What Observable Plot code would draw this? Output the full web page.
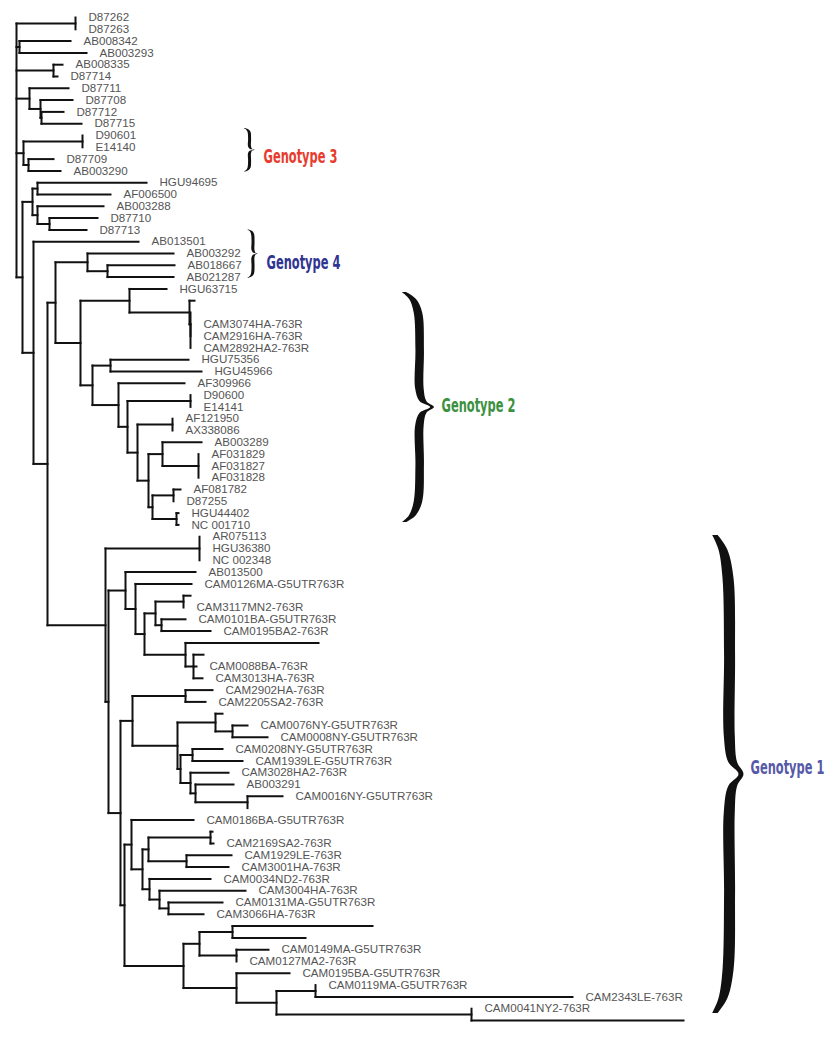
<!DOCTYPE html>
<html>
<head>
<meta charset="utf-8">
<script src="https://cdn.jsdelivr.net/npm/d3@7"></script>
<script src="https://cdn.jsdelivr.net/npm/@observablehq/plot@0.6"></script>
<style>
  html, body { margin: 0; padding: 0; background: #fff; }
  #chart { width: 836px; height: 1050px; }
</style>
</head>
<body>
<div id="chart"></div>
<script>
// ---- Leaves, top to bottom: [label, tip depth (tree distance from root, arbitrary units)] ----
const genotype3Leaves = [
  ["D87262", 59], ["D87263", 59], ["AB008342", 54], ["AB003293", 70],
  ["AB008335", 46], ["D87714", 41], ["D87711", 52], ["D87708", 56],
  ["D87712", 47], ["D87715", 65], ["D90601", 66], ["E14140", 66],
  ["D87709", 37], ["AB003290", 44], ["HGU94695", 130], ["AF006500", 94],
  ["AB003288", 87], ["D87710", 81], ["D87713", 70]
];
const genotype4Leaves = [
  ["AB013501", 122], ["AB003292", 157], ["AB018667", 158], ["AB021287", 157]
];
const genotype2Leaves = [
  ["HGU63715", 150], ["", 178], ["", 174], ["CAM3074HA-763R", 174],
  ["CAM2916HA-763R", 174], ["CAM2892HA2-763R", 174], ["HGU75356", 172],
  ["HGU45966", 185], ["AF309966", 168], ["D90600", 174], ["E14141", 174],
  ["AF121950", 156], ["AX338086", 156], ["AB003289", 185], ["AF031829", 182],
  ["AF031827", 182], ["AF031828", 182], ["AF081782", 164], ["D87255", 157],
  ["HGU44402", 162], ["NC 001710", 162]
];
const genotype1Leaves = [
  ["AR075113", 183], ["HGU36380", 183], ["NC 002348", 183], ["AB013500", 179],
  ["CAM0126MA-G5UTR763R", 175], ["", 174], ["CAM3117MN2-763R", 167],
  ["CAM0101BA-G5UTR763R", 169], ["CAM0195BA2-763R", 194], ["", 302], ["", 187],
  ["CAM0088BA-763R", 180], ["CAM3013HA-763R", 186], ["CAM2902HA-763R", 196],
  ["CAM2205SA2-763R", 189], ["", 206], ["CAM0076NY-G5UTR763R", 231],
  ["CAM0008NY-G5UTR763R", 251], ["CAM0208NY-G5UTR763R", 206],
  ["CAM1939LE-G5UTR763R", 226], ["CAM3028HA2-763R", 212], ["AB003291", 217],
  ["CAM0016NY-G5UTR763R", 266], ["", 231], ["CAM0186BA-G5UTR763R", 177],
  ["", 196], ["CAM2169SA2-763R", 197], ["CAM1929LE-763R", 215],
  ["CAM3001HA-763R", 212], ["CAM0034ND2-763R", 194], ["CAM3004HA-763R", 229],
  ["CAM0131MA-G5UTR763R", 206], ["CAM3066HA-763R", 187], ["", 356], ["", 289],
  ["CAM0149MA-G5UTR763R", 252], ["CAM0127MA2-763R", 220],
  ["CAM0195BA-G5UTR763R", 273], ["CAM0119MA-G5UTR763R", 299],
  ["CAM2343LE-763R", 556], ["CAM0041NY2-763R", 455], ["", 667]
];

// ---- Internal nodes: [id, depth, children]; a number is a leaf's row (1-based), a string is a node ----
const internalNodes = [
  ["R", 0, ["N75", "N19", "N54", "N29", "N23b", "N22"]],
  ["N75", 59, [1, 2]], ["N19", 3, [3, 4]], ["N54", 37, [5, 6]],
  ["N29", 13, [7, "N40a"]], ["N40a", 24, [8, "N40b"]], ["N40b", 25, [9, 10]],
  ["N23b", 7, ["N82", "N28"]], ["N82", 66, [11, 12]], ["N28", 12, [13, 14]],
  ["N22", 6, ["N32", "N33"]], ["N32", 16, ["N37a", "N37b"]],
  ["N37a", 21, [15, 16]], ["N37b", 21, [17, "N49"]], ["N49", 33, [18, 19]],
  ["N33", 17, [20, "N47"]], ["N47", 31, ["N55", "N105"]],
  ["N55", 39, ["N87", "N80"]], ["N87", 71, [21, "N107"]], ["N107", 91, [22, 23]],
  ["N80", 64, ["N129", "N92"]], ["N129", 113, [24, "N189"]],
  ["N189", 173, [25, "N190a"]], ["N190a", 174, [26, "N190b"]], ["N190b", 174, [27, 28, 29]],
  ["N92", 76, ["N110", "N118"]], ["N110", 94, [30, 31]], ["N118", 102, [32, "N127"]],
  ["N127", 111, ["N190c", "N137"]], ["N190c", 174, [33, 34]],
  ["N137", 121, ["N172", "N148"]], ["N172", 156, [35, 36]],
  ["N148", 132, ["N162", "N152"]], ["N162", 146, [37, "N198"]], ["N198", 182, [38, 39, 40]],
  ["N152", 136, ["N173", "N176"]], ["N173", 157, [41, 42]], ["N176", 160, [43, 44]],
  ["N105", 89, ["N199", "N108"]], ["N199", 183, [45, 46, 47]],
  ["N108", 92, ["N125", "N120"]], ["N125", 109, [48, "N135"]], ["N135", 119, [49, "N144"]],
  ["N144", 128, ["N155", "N185"]], ["N155", 139, ["N183", "N161"]],
  ["N183", 167, [50, 51]], ["N161", 145, [52, 53]],
  ["N185", 169, [54, "N193"]], ["N193", 177, [55, 56, 57]],
  ["N120", 104, ["N132", "N124"]], ["N132", 116, ["N185b", "N177"]], ["N185b", 169, [58, 59]],
  ["N177", 161, ["N215", "N180"]], ["N215", 199, [60, "N232"]], ["N232", 216, [61, 62]],
  ["N180", 164, ["N192", "N190d"]], ["N192", 176, [63, 64]],
  ["N190d", 174, [65, "N195"]], ["N195", 179, [66, "N247"]], ["N247", 231, [67, 68]],
  ["N124", 108, ["N131", "N183b"]], ["N131", 115, [69, "N142"]],
  ["N142", 126, ["N148b", "N149"]], ["N148b", 132, ["N210", "N186"]],
  ["N210", 194, [70, 71]], ["N186", 170, [72, 73]],
  ["N149", 133, [74, "N159"]], ["N159", 143, [75, "N168"]], ["N168", 152, [76, 77]],
  ["N183b", 167, ["N199b", "N236a"]], ["N199b", 183, ["N232b", "N236b"]],
  ["N232b", 216, [78, 79]], ["N236b", 220, [80, 81]],
  ["N236a", 220, [82, "N276"]], ["N276", 260, ["N315", "N471"]],
  ["N315", 299, [83, 84]], ["N471", 455, [85, 86]]
];

// ---- Genotype annotations (clade brackets) ----
const genotypeNames  = ["Genotype 3", "Genotype 4", "Genotype 2", "Genotype 1"];
const genotypeColors = ["#e63d2e", "#2f3590", "#3b9140", "#5659a8"];

// ---- layout of the bracket annotations: [rowTop, rowBottom, braceLeft, braceTip, thickness, labelRow] ----
const braceLayout = [
  [10.4, 14.1, 228, 238, 3, 12.8],
  [19.0, 23.1, 232, 241, 3, 21.8],
  [24.3, 43.8, 388, 416, 8.5, 33.9],
  [44.9, 85.4, 699, 725, 11, 64.6]
];
const braceProfile = [
  [0, 0, 0.5], [0.03, 0.3, 0.8], [0.09, 0.5, 1], [0.25, 0.56, 1], [0.42, 0.55, 1],
  [0.475, 0.68, 0.8], [0.5, 1, 0.45], [0.525, 0.68, 0.8], [0.58, 0.55, 1],
  [0.75, 0.56, 1], [0.91, 0.5, 1], [0.97, 0.3, 0.8], [1, 0, 0.5]
];

// ---- build tree geometry ----
const leaves = [...genotype3Leaves, ...genotype4Leaves, ...genotype2Leaves, ...genotype1Leaves];
const leafData = leaves.map(([label, depth], i) => ({label, depth, row: i + 1}));
const nodeMap = new Map(internalNodes.map(([id, d, ch]) => [id, {d, ch}]));
const depthOf = c => typeof c === "number" ? leaves[c - 1][1] : nodeMap.get(c).d;
const yMemo = new Map();
function yOf(c) {
  if (typeof c === "number") return c;
  if (yMemo.has(c)) return yMemo.get(c);
  const ch = nodeMap.get(c).ch;
  const y = (yOf(ch[0]) + yOf(ch[ch.length - 1])) / 2;
  yMemo.set(c, y);
  return y;
}
const segments = [];
for (const [id, d, ch] of internalNodes) {
  segments.push({x1: d, x2: d, y1: yOf(ch[0]), y2: yOf(ch[ch.length - 1])});
  for (const c of ch) {
    const dc = depthOf(c);
    if (dc > d) segments.push({x1: d, x2: dc, y1: yOf(c), y2: yOf(c)});
  }
}

const genotypes = genotypeNames.map((name, i) => {
  const [r0, r1, xl, xt, th, labelRow] = braceLayout[i];
  return {name, color: genotypeColors[i], r0, r1, xl, xt, th, labelRow};
});
const bracePoints = genotypes.flatMap(g => braceProfile.map(([t, u, w]) => {
  const cx = g.xl + u * (g.xt - g.xl);
  const hw = g.th * w / 2;
  return {g: g.name, y: g.r0 + t * (g.r1 - g.r0), x1: cx - hw, x2: cx + hw};
}));

const chart = Plot.plot({
  width: 836,
  height: 1050,
  margin: 0,
  style: {background: "#fff"},
  x: {domain: [0, 667], range: [16, 683], axis: null},
  y: {domain: [1, 86], range: [17, 1020], axis: null},
  color: {type: "identity"},
  marks: [
    Plot.link(segments, {
      x1: "x1", y1: "y1", x2: "x2", y2: "y2",
      stroke: "#111", strokeWidth: 2, strokeLinecap: "square"
    }),
    Plot.text(leafData.filter(d => d.label), {
      x: "depth", y: "row", text: "label", dx: 13, textAnchor: "start",
      fontSize: 11.6, fill: "#555", fontFamily: "'Liberation Sans', Arial, sans-serif"
    }),
    Plot.areaX(bracePoints, {
      y: "y", x1: "x1", x2: "x2", z: "g", fill: "#111", curve: "catmull-rom"
    }),
    Plot.text(genotypes, {
      x: d => d.xt + 9, y: "labelRow", text: "name", fill: "color",
      textAnchor: "start", fontSize: 20, fontWeight: "bold",
      fontFamily: "'DejaVu Sans Condensed', 'DejaVu Sans', sans-serif"
    })
  ]
});

document.getElementById("chart").appendChild(chart);

// condense the genotype captions horizontally (scale about their left edge)
d3.select(chart).selectAll("text")
  .filter(function () { return /^Genotype/.test(this.textContent); })
  .style("font-stretch", "condensed")
  .each(function () {
    const b = this.getBBox();
    const s = 74 / b.width;
    const t = this.getAttribute("transform") || "";
    this.setAttribute("transform",
      `${t} translate(${b.x},0) scale(${s},1) translate(${-b.x},0)`.trim());
  });
</script>
</body>
</html>
